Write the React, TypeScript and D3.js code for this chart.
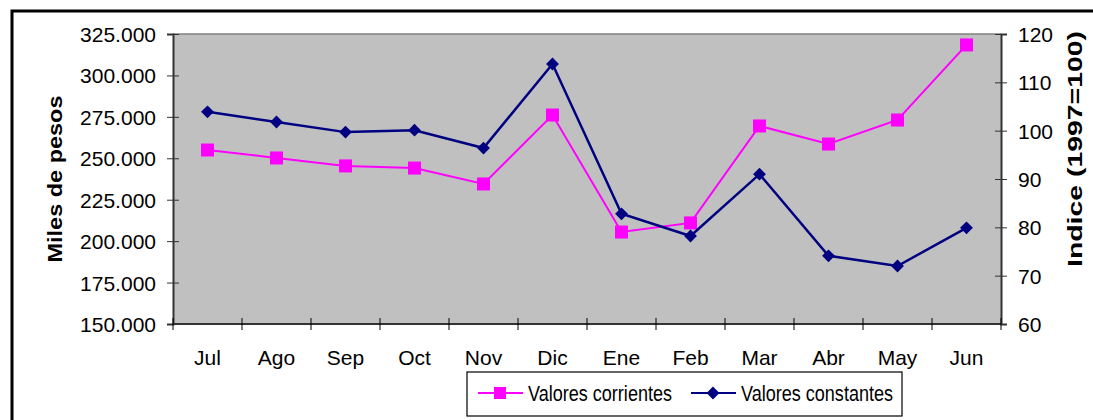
import { useEffect, useRef } from "react";
import * as d3 from "d3";

const months = ["Jul", "Ago", "Sep", "Oct", "Nov", "Dic", "Ene", "Feb", "Mar", "Abr", "May", "Jun"];
// miles de pesos
const corrientes = [255000, 250200, 245400, 244100, 234500, 276100, 205500, 211000, 269500, 258600, 273100, 318400];
// indice 1997=100
const constantes = [103.9, 101.8, 99.7, 100.1, 96.4, 113.8, 82.8, 78.2, 91.0, 74.1, 72.0, 79.9];
const leftTicks = [150000, 175000, 200000, 225000, 250000, 275000, 300000, 325000];
const rightTicks = [60, 70, 80, 90, 100, 110, 120];

const PINK = "#FF00FF";
const NAVY = "#000080";
const FONT = "Arial, 'Liberation Sans', sans-serif";

export default function App() {
    const svgRef = useRef<SVGSVGElement | null>(null);

    useEffect(() => {
        if (!svgRef.current) return;
        const width = 1093;
        const height = 420;
        const svg = d3.select(svgRef.current);
        svg.selectAll("*").remove();

        const m = { left: 173, right: 1001, top: 34, bottom: 324 };

        // outer frame
        svg.append("rect")
            .attr("x", 12).attr("y", 11)
            .attr("width", width + 20).attr("height", height + 20)
            .attr("fill", "white").attr("stroke", "black").attr("stroke-width", 3);

        const x = d3.scaleBand().domain(months).range([m.left, m.right]);
        const yL = d3.scaleLinear().domain([150000, 325000]).range([m.bottom, m.top]);
        const yR = d3.scaleLinear().domain([60, 120]).range([m.bottom, m.top]);

        svg.append("rect")
            .attr("x", m.left).attr("y", m.top)
            .attr("width", m.right - m.left).attr("height", m.bottom - m.top)
            .attr("fill", "#C0C0C0");
        svg.append("line")
            .attr("x1", m.left).attr("x2", m.right).attr("y1", m.top).attr("y2", m.top)
            .attr("stroke", "#808080").attr("stroke-width", 1.5);

        const fmt = (v: number) => d3.format(",")(v).replace(/,/g, ".");

        const gL = svg.append("g")
            .attr("transform", `translate(${m.left},0)`)
            .call(d3.axisLeft(yL).tickValues(leftTicks).tickFormat(d => fmt(d as number)).tickSize(6).tickPadding(11));
        gL.selectAll(".tick line").attr("x2", 6).attr("x1", -6);

        const gR = svg.append("g")
            .attr("transform", `translate(${m.right},0)`)
            .call(d3.axisRight(yR).tickValues(rightTicks).tickSize(6).tickPadding(11));
        gR.selectAll(".tick line").attr("x1", -6).attr("x2", 6);

        const bounds = months.map(d => x(d) as number).concat([m.right]);
        const gB = svg.append("g").attr("transform", `translate(0,${m.bottom})`);
        gB.append("line").attr("x1", m.left).attr("x2", m.right).attr("stroke", "#333").attr("stroke-width", 2);
        gB.selectAll("line.tk").data(bounds).join("line")
            .attr("class", "tk")
            .attr("x1", d => d).attr("x2", d => d).attr("y1", -6).attr("y2", 6)
            .attr("stroke", "black");
        gB.selectAll("text").data(months).join("text")
            .attr("x", d => (x(d) as number) + x.bandwidth() / 2)
            .attr("y", 41)
            .attr("text-anchor", "middle")
            .text(d => d);

        svg.selectAll(".domain").attr("stroke", "#333").attr("stroke-width", 2);
        svg.selectAll(".tick line").attr("stroke", "#333");
        svg.selectAll("text").attr("font-family", FONT).attr("font-size", 21).attr("fill", "black");
        gL.selectAll("text").attr("dy", "0.36em");
        gR.selectAll("text").attr("dy", "0.36em");

        const cx = (i: number) => (x(months[i]) as number) + x.bandwidth() / 2;

        svg.append("path")
            .datum(corrientes)
            .attr("fill", "none").attr("stroke", PINK).attr("stroke-width", 2)
            .attr("d", d3.line<number>().x((_, i) => cx(i)).y(d => yL(d)));
        svg.selectAll("rect.sq").data(corrientes).join("rect")
            .attr("class", "sq")
            .attr("x", (_, i) => cx(i) - 6.5).attr("y", d => yL(d) - 6.5)
            .attr("width", 13).attr("height", 13).attr("fill", PINK);

        const diamond = d3.symbol().type(d3.symbolDiamond2).size(105);
        svg.append("path")
            .datum(constantes)
            .attr("fill", "none").attr("stroke", NAVY).attr("stroke-width", 2.5)
            .attr("d", d3.line<number>().x((_, i) => cx(i)).y(d => yR(d)));
        svg.selectAll("path.dm").data(constantes).join("path")
            .attr("class", "dm")
            .attr("transform", (d, i) => `translate(${cx(i)},${yR(d)})`)
            .attr("d", diamond).attr("fill", NAVY);

        // axis titles
        svg.append("text")
            .attr("transform", "translate(62,179) rotate(-90)")
            .attr("text-anchor", "middle")
            .attr("font-family", FONT).attr("font-size", 20).attr("font-weight", "bold")
            .attr("textLength", 167).attr("lengthAdjust", "spacingAndGlyphs")
            .text("Miles de pesos");
        svg.append("text")
            .attr("transform", "translate(1082,149) rotate(-90)")
            .attr("text-anchor", "middle")
            .attr("font-family", FONT).attr("font-size", 20).attr("font-weight", "bold")
            .attr("textLength", 236).attr("lengthAdjust", "spacingAndGlyphs")
            .text("Indice (1997=100)");

        // legend
        const lg = svg.append("g");
        lg.append("rect")
            .attr("x", 467).attr("y", 372).attr("width", 435).attr("height", 44)
            .attr("fill", "white").attr("stroke", "black").attr("stroke-width", 1.2);
        const items = [
            { label: "Valores corrientes", color: PINK, x0: 478, kind: "sq", len: 144 },
            { label: "Valores constantes", color: NAVY, x0: 691, kind: "dm", len: 152 },
        ];
        items.forEach(it => {
            const yy = 393;
            lg.append("line").attr("x1", it.x0).attr("x2", it.x0 + 45).attr("y1", yy).attr("y2", yy)
                .attr("stroke", it.color).attr("stroke-width", 2);
            if (it.kind === "sq") {
                lg.append("rect").attr("x", it.x0 + 16).attr("y", yy - 6).attr("width", 12).attr("height", 12).attr("fill", it.color);
            } else {
                lg.append("path").attr("transform", `translate(${it.x0 + 22},${yy})`).attr("d", diamond).attr("fill", it.color);
            }
            lg.append("text").attr("x", it.x0 + 50).attr("y", yy + 8)
                .attr("font-family", FONT).attr("font-size", 22)
                .attr("textLength", it.len).attr("lengthAdjust", "spacingAndGlyphs")
                .text(it.label);
        });
    }, []);

    return (
        <svg ref={svgRef} width={1093} height={420}
            style={{ position: "absolute", left: 0, top: 0, background: "white" }} />
    );
}
